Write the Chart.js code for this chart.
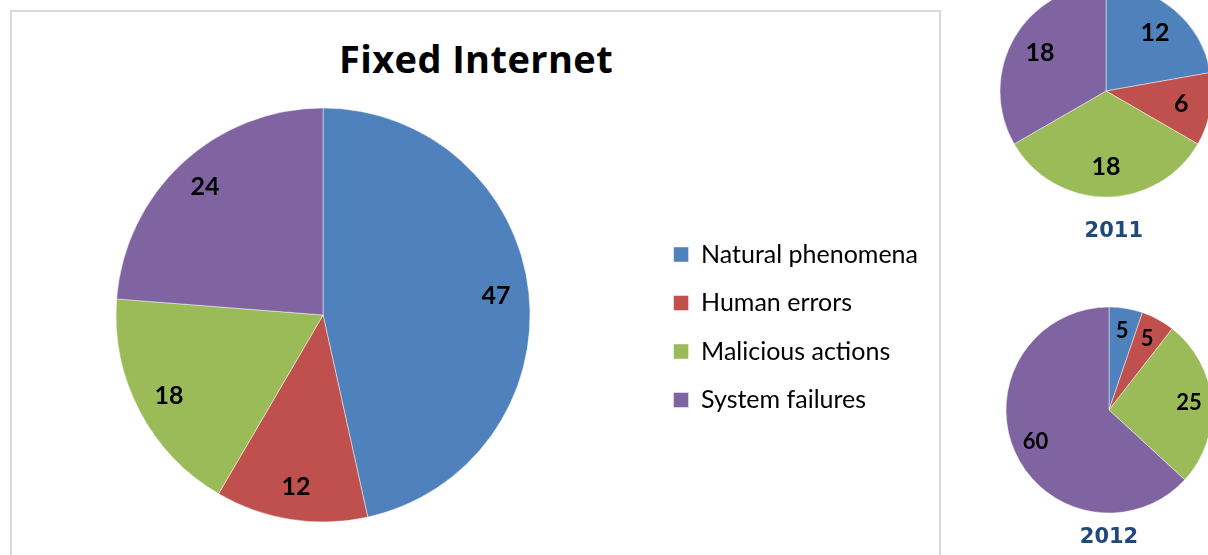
<!DOCTYPE html>
<html>
<head>
<meta charset="utf-8">
<title>Fixed Internet</title>
<script src="https://cdn.jsdelivr.net/npm/chart.js@4.4.1/dist/chart.umd.min.js"></script>
<style>
  html, body { margin: 0; padding: 0; background: #fff; }
  body { position: relative; width: 1208px; height: 555px; overflow: hidden; }
  .frame { position: absolute; left: 10px; top: 10px; width: 927px; height: 600px; border: 2px solid #d9d9d9; }
  .title { position: absolute; left: 10px; top: 36px; width: 932px; text-align: center;
           font: bold 38px/1.2 "Open Sans", sans-serif; letter-spacing: 0.4px; color: #000; }
  canvas { position: absolute; }
  #mainChart { left: -4px; top: 0; }
  #chart2011 { left: 956px; top: -60px; }
  #chart2012 { left: 959px; top: 280px; }
</style>
</head>
<body>
<div class="frame"></div>
<div class="title">Fixed Internet</div>
<canvas id="mainChart" width="954" height="555"></canvas>
<canvas id="chart2011" width="300" height="315"></canvas>
<canvas id="chart2012" width="300" height="278"></canvas>
<script>
const categories = ['Natural phenomena', 'Human errors', 'Malicious actions', 'System failures'];
const fixedInternet = [47, 12, 18, 24];
const values2011 = [12, 6, 18, 18];
const values2012 = [5, 5, 25, 60];
const yearLabels = ['2011', '2012'];
const sliceColors = ['#4f81bd', '#c0504d', '#9bbb59', '#8064a2'];

// writes the value inside each slice, a bit in from the rim
const sliceLabels = {
  id: 'sliceLabels',
  afterDatasetsDraw(chart, args, opts) {
    const ctx = chart.ctx;
    const values = chart.data.datasets[0].data;
    ctx.save();
    ctx.font = 'bold ' + opts.size + 'px Lato, sans-serif';
    ctx.fillStyle = '#000';
    ctx.textAlign = 'center';
    ctx.textBaseline = 'middle';
    chart.getDatasetMeta(0).data.forEach((arc, i) => {
      const mid = (arc.startAngle + arc.endAngle) / 2;
      const r = arc.outerRadius * opts.at;
      ctx.fillText(values[i], arc.x + Math.cos(mid) * r, arc.y + Math.sin(mid) * r);
    });
    ctx.restore();
  }
};

const pieDataset = (values, radius) => ({
  data: values,
  backgroundColor: sliceColors,
  borderColor: 'rgba(255,255,255,0.45)',
  borderWidth: 1,
  radius: radius,
  clip: false
});

new Chart(document.getElementById('mainChart'), {
  type: 'pie',
  data: { labels: categories, datasets: [pieDataset(fixedInternet, 207)] },
  options: {
    responsive: false,
    animation: false,
    layout: { padding: { left: 0, top: 194, right: 22, bottom: 119 } },
    plugins: {
      legend: {
        position: 'right',
        align: 'end',
        labels: {
          font: { family: 'Lato', size: 25 },
          color: '#000',
          boxWidth: 15,
          boxHeight: 15,
          padding: 23.5
        }
      },
      tooltip: { enabled: false },
      sliceLabels: { size: 25, at: 0.84 }
    }
  },
  plugins: [sliceLabels]
});

const smallPie = (id, values, year, radius, pad, align, labelSize, labelAt) => new Chart(document.getElementById(id), {
  type: 'pie',
  data: { labels: categories, datasets: [pieDataset(values, radius)] },
  options: {
    responsive: false,
    animation: false,
    layout: { padding: pad },
    plugins: {
      legend: { display: false },
      tooltip: { enabled: false },
      title: {
        display: true,
        text: year,
        position: 'bottom',
        align: align,
        color: '#1f497d',
        font: { family: 'DejaVu Sans', size: 21, weight: 'bold', lineHeight: 1.2 },
        padding: 0
      },
      sliceLabels: { size: labelSize, at: labelAt }
    }
  },
  plugins: [sliceLabels]
});

smallPie('chart2011', values2011, yearLabels[0], 106, { left: 113, right: 113, top: 22.6, bottom: 10.4 }, 'end', 25, 0.72);
smallPie('chart2012', values2012, yearLabels[1], 103, { top: 14.6, bottom: 7.4 }, 'center', 22, 0.78);
</script>
</body>
</html>
